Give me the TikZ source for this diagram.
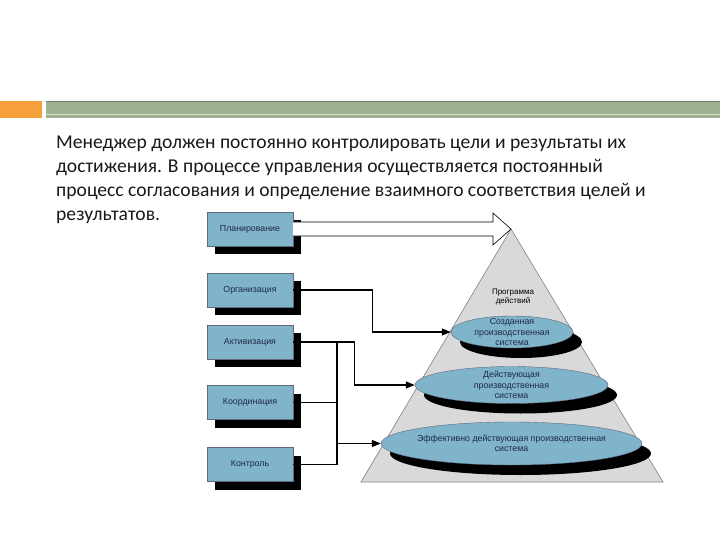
\documentclass[tikz,border=0pt]{standalone}
\usepackage{fontspec}
\setmainfont{Carlito}
\newfontfamily\diagfont{Liberation Sans}
\usetikzlibrary{shapes.geometric,shadows,arrows.meta}
\definecolor{slidegreen}{RGB}{160,177,143}
\definecolor{slideorange}{RGB}{245,160,58}
\definecolor{boxblue}{RGB}{128,180,202}
\definecolor{inknavy}{RGB}{30,40,70}
\definecolor{pyrgray}{RGB}{217,217,217}

\begin{document}
\begin{tikzpicture}[x=1pt,y=-1pt]
    \tikzstyle{func} = [rectangle, draw=inknavy!70, fill=boxblue, minimum width=86pt, minimum height=34pt, font=\diagfont\fontsize{8.8}{10}\selectfont, text=inknavy, drop shadow={shadow xshift=8pt, shadow yshift=-8pt, fill=black, opacity=1}]
    \tikzstyle{level} = [ellipse, draw=inknavy!70, fill=boxblue, inner xsep=-20pt, inner ysep=-10pt, align=center, font=\diagfont\fontsize{8.8}{10.5}\selectfont, text=inknavy, drop shadow={shadow xshift=9pt, shadow yshift=-10pt, fill=black, opacity=1}]
    \tikzstyle{link} = [line width=1.3pt, black]
    \tikzstyle{arr} = [-{Triangle[length=9pt,width=7pt]}]
    \useasboundingbox (0,0) rectangle (720,540);

    % Slide header
    \fill[slideorange] (0,101) rectangle (42,118);
    \fill[slidegreen] (46,101) rectangle (720,118);
    \draw[slidegreen!70!black, line width=0.8pt] (46,101.5) -- (720,101.5);
    \draw[slidegreen!40, line width=0.6pt] (46,114) -- (720,114);

    \node[anchor=north west, inner sep=0pt, align=left, font=\fontsize{19.6}{24}\selectfont, text=black!90] (intro) at (56,136) {Менеджер должен постоянно контролировать цели и результаты их\\достижения. В процессе управления осуществляется постоянный\\процесс согласования и определение взаимного соответствия целей и\\результатов.};

    % Pyramid
    \coordinate (apex) at (511,229);
    \coordinate (baseL) at (361,482);
    \coordinate (baseR) at (663,482);
    \draw[gray, fill=pyrgray, line width=0.6pt] (apex) -- (baseR) -- (baseL) -- cycle;
    \node[font=\diagfont\fontsize{8}{8.5}\selectfont, align=center, inner sep=0pt] (prog) at (513,297) {Программа\\действий};

    % Levels
    \node[level, minimum width=122pt, minimum height=32pt] (e1) at (512,332) {Созданная\\производственная\\система};
    \node[level, minimum width=193pt, minimum height=37pt] (e2) at (511.5,385) {Действующая\\производственная\\система};
    \node[level, minimum width=261pt, minimum height=43pt] (e3) at (511.5,443.5) {Эффективно действующая производственная\\система};

    % Functions
    \node[func] (plan) at (250,229) {Планирование};
    \node[func] (org) at (250,290) {Организация};
    \node[func] (act) at (250,342) {Активизация};
    \node[func] (koord) at (250,402.5) {Координация};
    \node[func] (kontr) at (250,464.5) {Контроль};

    % Connections
    \coordinate (headback) at (493,229);
    \draw[fill=white, line width=0.6pt] ([yshift=7pt]plan.east) -- ([yshift=7pt]headback) -- ([yshift=16pt]headback) -- (apex) -- ([yshift=-16pt]headback) -- ([yshift=-7pt]headback) -- ([yshift=-7pt]plan.east);
    \draw[link, arr] (org.east) -- ++(79,0) |- (e1.west);
    \draw[link, arr] (act.east) -- ++(61,0) |- (e2.west);
    \coordinate (bus) at (337,342);
    \draw[link] (kontr.east) -| (bus);
    \draw[link] (koord.east) -- (koord.east -| bus);
    \draw[link, arr] (bus |- e3.west) -- (e3.west);
\end{tikzpicture}
\end{document}
